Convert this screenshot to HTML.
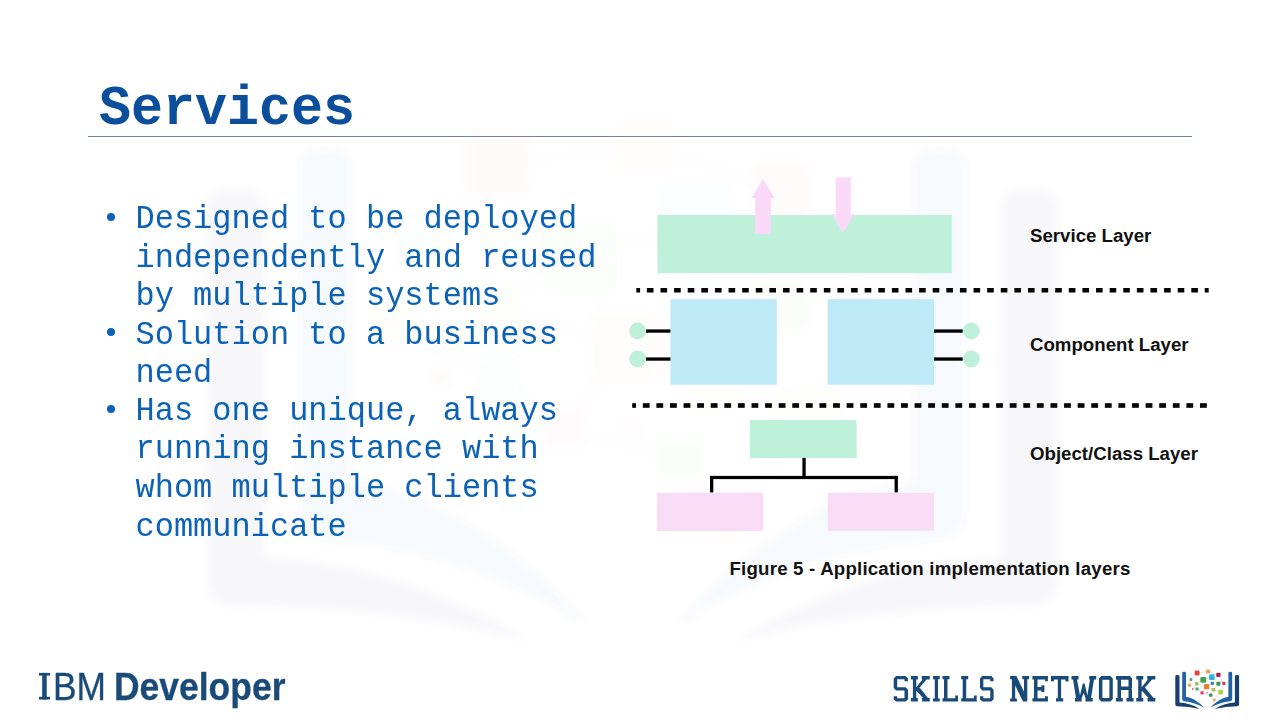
<!DOCTYPE html>
<html><head><meta charset="utf-8">
<style>
html,body{margin:0;padding:0;background:#fff;}
body{width:1280px;height:720px;position:relative;overflow:hidden;}
.abs{position:absolute;white-space:pre;}
.title{left:99px;top:77.5px;transform:scaleY(1.05);transform-origin:0 50px;font-family:"Liberation Mono",monospace;font-weight:bold;font-size:53.3px;line-height:64px;color:#0b4f9c;}
.rule{left:88px;top:136px;width:1104px;height:1px;background:#728597;}
.body{left:102px;top:200px;font-family:"Liberation Mono",monospace;font-size:32px;line-height:36.5714px;transform:scaleY(1.05);transform-origin:0 0;color:#0b62b6;}
.bul{position:absolute;left:107.4px;width:8px;height:8px;border-radius:50%;background:#0b62b6;}
.dia{position:absolute;left:0;top:0;}
.lbl{font-family:"Liberation Sans",sans-serif;font-weight:bold;font-size:18.67px;line-height:22px;color:#111;}
.ibm{left:38px;top:665px;-webkit-text-stroke:0.3px #1a4a78;font-family:"Liberation Sans",sans-serif;font-size:38px;line-height:44px;color:#1a4a78;}
.dev{display:inline-block;transform:scaleX(0.933);transform-origin:0 0;}
.sn{transform:scale(0.872,1.10);transform-origin:0 0;left:893px;top:670px;font-family:"Liberation Mono",monospace;font-weight:bold;font-size:36px;line-height:40px;color:#1a4a78;}
</style></head><body>
<svg class="dia" width="1280" height="720"><defs><filter id="bl" x="-10%" y="-10%" width="120%" height="120%"><feGaussianBlur stdDeviation="4"/></filter></defs><g filter="url(#bl)"><use href="#pages" transform="translate(-15423.5,-8786.46) scale(13.3)" opacity="0.032"/><use href="#nodes" transform="translate(-15423.5,-8786.46) scale(13.3)" opacity="0.016"/></g></svg>
<div class="abs title">Services</div>
<div class="abs rule"></div>
<div class="bul" style="top:212.5px"></div>
<div class="bul" style="top:328.1px"></div>
<div class="bul" style="top:404.5px"></div>
<div class="abs body" style="left:135.5px;top:201px">Designed to be deployed
independently and reused
by multiple systems
Solution to a business
need
Has one unique, always
running instance with
whom multiple clients
communicate</div>
<svg class="dia" width="1280" height="720" viewBox="0 0 1280 720">
<g fill="#bff0d9">
<rect x="657.5" y="215" width="294.3" height="58.2"/>
<rect x="749.8" y="420" width="106.8" height="38.2"/>
<circle cx="637.6" cy="331" r="8.4"/><circle cx="637.6" cy="359" r="8.4"/>
<circle cx="971.4" cy="331" r="8.4"/><circle cx="971.4" cy="359" r="8.4"/>
</g>
<g fill="#fad8f8">
<path d="M755.2 234 L770.8 234 L770.8 198 L774.7 198 L763 179 L751.7 198 L755.2 198 Z"/>
<path d="M835.7 177.5 L850.8 177.5 L850.8 214 L854.5 214 L843.2 233.3 L831.8 214 L835.7 214 Z"/>
</g>
<g fill="#bee9f6">
<rect x="670.4" y="299.2" width="106.4" height="85.5"/>
<rect x="827.6" y="299.2" width="106.5" height="85.5"/>
</g>
<g fill="#f8dcf5">
<rect x="657" y="492.8" width="106.3" height="38.3"/>
<rect x="827.8" y="492.8" width="106.1" height="38"/>
</g>
<g fill="#000">
<rect x="636.3" y="288" width="3.8" height="4.5"/><rect x="646.90" y="288.0" width="6.6" height="4.5"/><rect x="660.51" y="288.0" width="6.6" height="4.5"/><rect x="674.12" y="288.0" width="6.6" height="4.5"/><rect x="687.73" y="288.0" width="6.6" height="4.5"/><rect x="701.34" y="288.0" width="6.6" height="4.5"/><rect x="714.95" y="288.0" width="6.6" height="4.5"/><rect x="728.56" y="288.0" width="6.6" height="4.5"/><rect x="742.17" y="288.0" width="6.6" height="4.5"/><rect x="755.78" y="288.0" width="6.6" height="4.5"/><rect x="769.39" y="288.0" width="6.6" height="4.5"/><rect x="783.00" y="288.0" width="6.6" height="4.5"/><rect x="796.61" y="288.0" width="6.6" height="4.5"/><rect x="810.22" y="288.0" width="6.6" height="4.5"/><rect x="823.83" y="288.0" width="6.6" height="4.5"/><rect x="837.44" y="288.0" width="6.6" height="4.5"/><rect x="851.05" y="288.0" width="6.6" height="4.5"/><rect x="864.66" y="288.0" width="6.6" height="4.5"/><rect x="878.27" y="288.0" width="6.6" height="4.5"/><rect x="891.88" y="288.0" width="6.6" height="4.5"/><rect x="905.49" y="288.0" width="6.6" height="4.5"/><rect x="919.10" y="288.0" width="6.6" height="4.5"/><rect x="932.71" y="288.0" width="6.6" height="4.5"/><rect x="946.32" y="288.0" width="6.6" height="4.5"/><rect x="959.93" y="288.0" width="6.6" height="4.5"/><rect x="973.54" y="288.0" width="6.6" height="4.5"/><rect x="987.15" y="288.0" width="6.6" height="4.5"/><rect x="1000.76" y="288.0" width="6.6" height="4.5"/><rect x="1014.37" y="288.0" width="6.6" height="4.5"/><rect x="1027.98" y="288.0" width="6.6" height="4.5"/><rect x="1041.59" y="288.0" width="6.6" height="4.5"/><rect x="1055.20" y="288.0" width="6.6" height="4.5"/><rect x="1068.81" y="288.0" width="6.6" height="4.5"/><rect x="1082.42" y="288.0" width="6.6" height="4.5"/><rect x="1096.03" y="288.0" width="6.6" height="4.5"/><rect x="1109.64" y="288.0" width="6.6" height="4.5"/><rect x="1123.25" y="288.0" width="6.6" height="4.5"/><rect x="1136.86" y="288.0" width="6.6" height="4.5"/><rect x="1150.47" y="288.0" width="6.6" height="4.5"/><rect x="1164.08" y="288.0" width="6.6" height="4.5"/><rect x="1177.69" y="288.0" width="6.6" height="4.5"/><rect x="1191.30" y="288.0" width="6.6" height="4.5"/><rect x="1204.7" y="288" width="4" height="4.5"/>
<rect x="632.2" y="403.2" width="3.8" height="4.6"/><rect x="642.80" y="403.2" width="6.8" height="4.6"/><rect x="656.39" y="403.2" width="6.8" height="4.6"/><rect x="669.98" y="403.2" width="6.8" height="4.6"/><rect x="683.57" y="403.2" width="6.8" height="4.6"/><rect x="697.16" y="403.2" width="6.8" height="4.6"/><rect x="710.75" y="403.2" width="6.8" height="4.6"/><rect x="724.34" y="403.2" width="6.8" height="4.6"/><rect x="737.93" y="403.2" width="6.8" height="4.6"/><rect x="751.52" y="403.2" width="6.8" height="4.6"/><rect x="765.11" y="403.2" width="6.8" height="4.6"/><rect x="778.70" y="403.2" width="6.8" height="4.6"/><rect x="792.29" y="403.2" width="6.8" height="4.6"/><rect x="805.88" y="403.2" width="6.8" height="4.6"/><rect x="819.47" y="403.2" width="6.8" height="4.6"/><rect x="833.06" y="403.2" width="6.8" height="4.6"/><rect x="846.65" y="403.2" width="6.8" height="4.6"/><rect x="860.24" y="403.2" width="6.8" height="4.6"/><rect x="873.83" y="403.2" width="6.8" height="4.6"/><rect x="887.42" y="403.2" width="6.8" height="4.6"/><rect x="901.01" y="403.2" width="6.8" height="4.6"/><rect x="914.60" y="403.2" width="6.8" height="4.6"/><rect x="928.19" y="403.2" width="6.8" height="4.6"/><rect x="941.78" y="403.2" width="6.8" height="4.6"/><rect x="955.37" y="403.2" width="6.8" height="4.6"/><rect x="968.96" y="403.2" width="6.8" height="4.6"/><rect x="982.55" y="403.2" width="6.8" height="4.6"/><rect x="996.14" y="403.2" width="6.8" height="4.6"/><rect x="1009.73" y="403.2" width="6.8" height="4.6"/><rect x="1023.32" y="403.2" width="6.8" height="4.6"/><rect x="1036.91" y="403.2" width="6.8" height="4.6"/><rect x="1050.50" y="403.2" width="6.8" height="4.6"/><rect x="1064.09" y="403.2" width="6.8" height="4.6"/><rect x="1077.68" y="403.2" width="6.8" height="4.6"/><rect x="1091.27" y="403.2" width="6.8" height="4.6"/><rect x="1104.86" y="403.2" width="6.8" height="4.6"/><rect x="1118.45" y="403.2" width="6.8" height="4.6"/><rect x="1132.04" y="403.2" width="6.8" height="4.6"/><rect x="1145.63" y="403.2" width="6.8" height="4.6"/><rect x="1159.22" y="403.2" width="6.8" height="4.6"/><rect x="1172.81" y="403.2" width="6.8" height="4.6"/><rect x="1186.40" y="403.2" width="6.8" height="4.6"/><rect x="1199.99" y="403.2" width="6.8" height="4.6"/>
<rect x="646" y="329.4" width="24.4" height="3.3"/>
<rect x="646" y="357.4" width="24.4" height="3.3"/>
<rect x="934" y="329.4" width="28.7" height="3.3"/>
<rect x="934" y="357.4" width="28.7" height="3.3"/>
<rect x="802.4" y="458" width="3.3" height="19"/>
<rect x="710" y="475.9" width="187.8" height="3.2"/>
<rect x="710" y="475.9" width="3.3" height="16.5"/>
<rect x="894.6" y="475.9" width="3.3" height="16.5"/>
</g>
</svg>
<div class="abs lbl" style="left:1030px;top:225px">Service Layer</div>
<div class="abs lbl" style="left:1030px;top:333.5px">Component Layer</div>
<div class="abs lbl" style="left:1030px;top:443px">Object/Class Layer</div>
<div class="abs lbl" style="left:729.5px;top:558px;letter-spacing:0.2px">Figure 5 - Application implementation layers</div>
<svg class="dia" width="1280" height="720"><g fill="#1a4a78"><rect x="39" y="672.9" width="11" height="2.7"/><rect x="39" y="696.8" width="11" height="2.7"/><rect x="42.2" y="672.9" width="4.5" height="26.6"/></g></svg>
<div class="abs ibm" style="left:52.8px;transform:scaleX(0.93);transform-origin:0 0">BM</div>
<div class="abs ibm dev" style="left:114px;font-weight:bold">Developer</div>
<svg class="dia" width="1280" height="720"><path fill="#1a4a78" fill-rule="nonzero" d="M896.10 676.00 L905.60 676.00 L908.00 678.40 L908.00 681.30 L904.50 681.30 L904.50 679.30 L897.20 679.30 L897.20 687.30 L905.60 687.30 L908.00 689.70 L908.00 699.20 L905.60 701.60 L896.10 701.60 L893.70 699.20 L893.70 696.20 L897.20 696.20 L897.20 698.30 L904.50 698.30 L904.50 690.50 L896.10 690.50 L893.70 688.10 L893.70 678.40ZM912.88 676.00 L916.26 676.00 L916.26 701.60 L912.88 701.60ZM911.00 676.00 L917.85 676.00 L917.85 679.40 L911.00 679.40ZM911.00 698.10 L917.85 698.10 L917.85 701.60 L911.00 701.60ZM921.81 676.00 L929.75 676.00 L929.75 679.40 L921.81 679.40ZM922.11 698.10 L929.75 698.10 L929.75 701.60 L922.11 701.60ZM922.71 679.30 L926.67 679.30 L916.26 691.60 L916.26 687.30ZM918.74 686.50 L928.26 698.20 L923.30 698.20 L916.26 690.50ZM934.75 676.00 L938.00 676.00 L938.00 701.60 L934.75 701.60ZM933.00 676.00 L939.75 676.00 L939.75 679.20 L933.00 679.20ZM933.00 698.40 L939.75 698.40 L939.75 701.60 L933.00 701.60ZM944.00 676.00 L947.50 676.00 L947.50 701.60 L944.00 701.60ZM942.50 676.00 L949.50 676.00 L949.50 679.20 L942.50 679.20ZM942.50 698.30 L958.00 698.30 L958.00 701.60 L942.50 701.60ZM955.20 695.60 L958.00 695.60 L958.00 698.50 L955.20 698.50ZM962.70 676.00 L966.20 676.00 L966.20 701.60 L962.70 701.60ZM961.20 676.00 L968.20 676.00 L968.20 679.20 L961.20 679.20ZM961.20 698.30 L976.70 698.30 L976.70 701.60 L961.20 701.60ZM973.90 695.60 L976.70 695.60 L976.70 698.50 L973.90 698.50ZM982.28 676.00 L991.32 676.00 L993.60 678.40 L993.60 681.30 L990.27 681.30 L990.27 679.30 L983.33 679.30 L983.33 687.30 L991.32 687.30 L993.60 689.70 L993.60 699.20 L991.32 701.60 L982.28 701.60 L980.00 699.20 L980.00 696.20 L983.33 696.20 L983.33 698.30 L990.27 698.30 L990.27 690.50 L982.28 690.50 L980.00 688.10 L980.00 678.40ZM1011.90 676.00 L1015.20 676.00 L1015.20 701.60 L1011.90 701.60ZM1010.10 698.40 L1016.90 698.40 L1016.90 701.60 L1010.10 701.60ZM1024.00 676.00 L1027.30 676.00 L1027.30 701.60 L1024.00 701.60ZM1022.30 676.00 L1029.10 676.00 L1029.10 679.20 L1022.30 679.20ZM1010.10 676.00 L1016.40 676.00 L1027.30 698.50 L1027.30 701.60 L1023.00 701.60 L1015.20 685.50 L1015.20 679.20 L1010.10 679.20ZM1034.00 676.00 L1037.50 676.00 L1037.50 701.60 L1034.00 701.60ZM1032.40 676.00 L1047.90 676.00 L1047.90 679.40 L1032.40 679.40ZM1045.10 679.30 L1047.90 679.30 L1047.90 681.30 L1045.10 681.30ZM1032.40 698.20 L1047.90 698.20 L1047.90 701.60 L1032.40 701.60ZM1045.10 696.30 L1047.90 696.30 L1047.90 698.30 L1045.10 698.30ZM1037.40 687.00 L1042.60 687.00 L1042.60 690.60 L1037.40 690.60ZM1041.40 685.30 L1044.40 685.30 L1044.40 692.10 L1041.40 692.10ZM1051.00 676.00 L1068.50 676.00 L1068.50 679.40 L1051.00 679.40ZM1051.00 679.30 L1054.00 679.30 L1054.00 681.30 L1051.00 681.30ZM1065.50 679.30 L1068.50 679.30 L1068.50 681.50 L1065.50 681.50ZM1057.80 676.00 L1061.10 676.00 L1061.10 701.60 L1057.80 701.60ZM1056.00 698.20 L1063.20 698.20 L1063.20 701.60 L1056.00 701.60ZM1071.50 676.00 L1078.50 676.00 L1078.50 679.50 L1077.00 679.50 L1080.00 695.50 L1082.80 683.50 L1084.60 683.50 L1087.40 695.50 L1090.00 679.50 L1089.20 679.50 L1089.20 676.00 L1096.20 676.00 L1096.20 679.50 L1094.00 679.50 L1091.00 698.10 L1092.70 698.10 L1092.70 701.60 L1085.50 701.60 L1085.50 698.10 L1083.70 693.00 L1081.70 698.10 L1081.70 701.60 L1075.00 701.60 L1075.00 698.10 L1076.00 698.10 L1073.00 679.50 L1071.50 679.50ZM1101.40 676.00 L1110.30 676.00 L1112.80 678.50 L1112.80 699.10 L1110.30 701.60 L1101.40 701.60 L1098.90 699.10 L1098.90 678.50ZM1102.40 679.70 L1102.40 698.00 L1109.40 698.00 L1109.40 679.70ZM1116.00 676.00 L1129.80 676.00 L1132.00 678.20 L1132.00 688.00 L1131.20 688.80 L1132.00 689.60 L1132.00 698.10 L1133.50 698.10 L1133.50 701.60 L1126.50 701.60 L1126.50 698.10 L1128.50 698.10 L1128.50 690.00 L1121.00 690.00 L1121.00 698.10 L1122.75 698.10 L1122.75 701.60 L1116.00 701.60 L1116.00 698.10 L1117.50 698.10 L1117.50 679.75 L1116.00 679.75ZM1121.00 679.75 L1121.00 686.50 L1128.50 686.50 L1128.50 679.75ZM1138.21 676.00 L1141.63 676.00 L1141.63 701.60 L1138.21 701.60ZM1136.30 676.00 L1143.24 676.00 L1143.24 679.40 L1136.30 679.40ZM1136.30 698.10 L1143.24 698.10 L1143.24 701.60 L1136.30 701.60ZM1147.26 676.00 L1155.30 676.00 L1155.30 679.40 L1147.26 679.40ZM1147.56 698.10 L1155.30 698.10 L1155.30 701.60 L1147.56 701.60ZM1148.16 679.30 L1152.18 679.30 L1141.63 691.60 L1141.63 687.30ZM1144.14 686.50 L1153.79 698.20 L1148.77 698.20 L1141.63 690.50Z"/>
<g id="logo"><g id="pages"><g fill="#183f6d">
<path d="M1175.3,676 Q1175.3,674.9 1177.4,674.9 Q1179.5,674.9 1179.5,676 L1179.5,702.6 Q1189,702.8 1199.7,708.9 Q1189,706.2 1177.2,706.2 Q1175.3,706.2 1175.3,704.3 Z"/>
<path d="M1239.1,676 Q1239.1,674.9 1237,674.9 Q1234.9,674.9 1234.9,676 L1234.9,702.6 Q1225.4,702.8 1214.7,708.9 Q1225.4,706.2 1237.2,706.2 Q1239.1,706.2 1239.1,704.3 Z"/>
</g>
<g fill="#2262a1">
<path d="M1182.2,673 Q1182.2,671.8 1184.1,671.8 Q1186,671.8 1186,673 L1186,696.8 Q1196,698.5 1203.9,707.7 Q1195,702.2 1184,701.2 Q1182.2,701 1182.2,699 Z"/>
<path d="M1232.2,673 Q1232.2,671.8 1230.3,671.8 Q1228.4,671.8 1228.4,673 L1228.4,696.8 Q1218.4,698.5 1210.5,707.7 Q1219.4,702.2 1230.4,701.2 Q1232.2,701 1232.2,699 Z"/>
</g>
</g><g id="nodes"><g stroke="#c8c8c8" stroke-width="0.5" fill="none">
<path d="M1197.1,673 L1208.1,671.5 L1218.4,674.9 L1223.8,683.3 L1220.7,692.1 L1214.2,700.1 L1210.8,695.1 L1202,692.8 L1197.1,689 L1189.4,685.2 L1190.9,679.5 L1197.1,673 M1203.2,679.9 L1211.9,677.2 L1218.4,683.7 L1213.5,689.8 L1206.6,686.7 L1196.7,683.7 L1203.2,679.9 L1206.6,686.7 L1212.3,683.3 M1206.6,686.7 L1202,692.8 M1213.5,689.8 L1220.7,692.1"/>
</g>
<rect x="1194.63" y="670.53" width="4.94" height="4.94" rx="1.11" fill="#e8453c"/>
<rect x="1206.11" y="669.50" width="3.99" height="3.99" rx="0.90" fill="#e9a24f"/>
<rect x="1216.22" y="672.72" width="4.37" height="4.37" rx="0.98" fill="#b2204a"/>
<rect x="1189.48" y="678.08" width="2.85" height="2.85" rx="0.64" fill="#5aa58c"/>
<rect x="1200.35" y="677.05" width="5.70" height="5.70" rx="1.28" fill="#3fa34d"/>
<rect x="1209.05" y="674.35" width="5.70" height="5.70" rx="1.28" fill="#33b3e0"/>
<rect x="1194.89" y="681.90" width="3.61" height="3.61" rx="0.81" fill="#a9c052"/>
<rect x="1187.98" y="683.78" width="2.85" height="2.85" rx="0.64" fill="#ef9b56"/>
<rect x="1210.68" y="681.68" width="3.23" height="3.23" rx="0.73" fill="#2f7fc6"/>
<rect x="1216.41" y="681.71" width="3.99" height="3.99" rx="0.90" fill="#36984a"/>
<rect x="1222.18" y="681.68" width="3.23" height="3.23" rx="0.73" fill="#d63a7b"/>
<rect x="1203.94" y="684.04" width="5.32" height="5.32" rx="1.20" fill="#f07c2e"/>
<rect x="1195.48" y="687.38" width="3.23" height="3.23" rx="0.73" fill="#4fae86"/>
<rect x="1192.04" y="688.24" width="1.52" height="1.52" rx="0.34" fill="#c04050"/>
<rect x="1211.69" y="688.00" width="3.61" height="3.61" rx="0.81" fill="#a8c055"/>
<rect x="1218.33" y="689.73" width="4.75" height="4.75" rx="1.07" fill="#b5d03c"/>
<rect x="1200.38" y="691.18" width="3.23" height="3.23" rx="0.73" fill="#e2407a"/>
<rect x="1206.24" y="692.04" width="1.52" height="1.52" rx="0.34" fill="#d08080"/>
<rect x="1209.18" y="693.49" width="3.23" height="3.23" rx="0.73" fill="#3a8a4a"/>
<rect x="1212.87" y="698.77" width="2.66" height="2.66" rx="0.60" fill="#e8a860"/>
</g></g></svg>
</body></html>
